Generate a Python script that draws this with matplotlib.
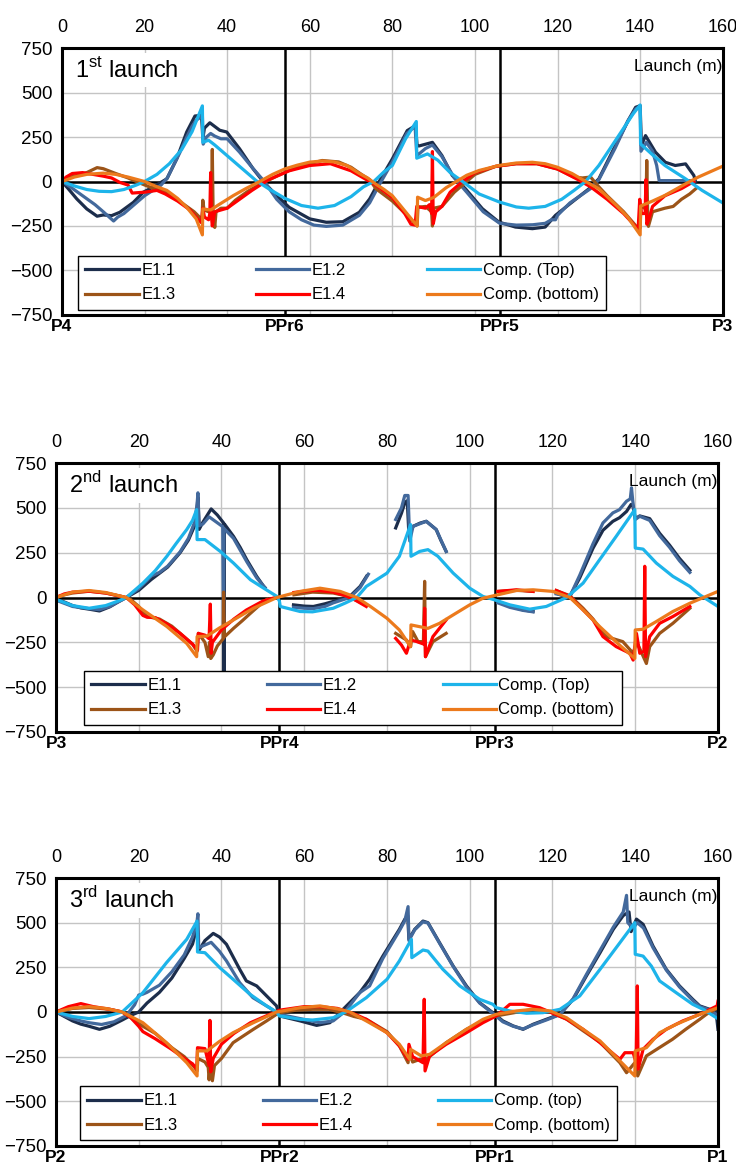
import numpy as np
import matplotlib.pyplot as plt

nan = np.nan

# ---------------- 1st launch (P4 - P3) ----------------
p1_e11 = [(0, 0), (1.5, -40), (3.6, -98), (6, -154), (8.5, -195), (10, -188), (12, -192), (14, -173),
          (17.3, -117), (19.7, -60), (22, -32), (25.4, 15), (27.8, 128), (30.2, 278), (32.2, 368),
          (33.8, 372), (34.1, 240), (34.5, 300), (35.8, 330), (38.2, 288), (39.9, 278), (43, 184),
          (46.3, 71), (48.7, 0), (52, -79), (55, -145), (60, -210), (64, -229), (68, -226), (72, -173),
          (74.5, -98), (76.8, 0), (80, 127), (83.6, 286), (85.6, 314), (86, 200), (86.5, 200),
          (89.7, 220), (92, 146), (94.5, 34), (97.7, -41), (101.8, -153), (105.8, -228), (109.8, -256),
          (113.9, -265), (117, -256), (119.5, -190), (123.5, -116), (127.6, -41), (130, 15), (134, 202),
          (137.3, 351), (138.9, 417), (140, 426), (140.3, 202), (141.3, 258), (143.7, 165),
          (146.1, 108), (148.5, 90), (151, 99), (153, 34), (153.4, 0)]
p1_e12 = [(0, 0), (2, -30), (5, -80), (8, -130), (10, -170), (12.5, -222), (13.5, -200), (15, -180),
          (17, -140), (18.5, -110), (20, -80), (22, -50), (24, -20), (25.5, 20), (27, 90), (28.5, 160),
          (30, 240), (31.5, 310), (32.5, 345), (33.5, 360), (34, 370), (34.2, 210), (35, 250),
          (36, 270), (37, 255), (38.5, 240), (40, 240), (43, 165), (46, 80), (49, 0), (52, -100),
          (55, -170), (58, -215), (61, -245), (64, -252), (68, -245), (72, -190), (74.5, -120),
          (76.8, -20), (80, 110), (83.5, 270), (85.5, 310), (85.9, 150), (86.2, 150), (88, 185),
          (89.7, 205), (92, 140), (95, 20), (98, -60), (102, -170), (106, -235), (110, -245),
          (114, -243), (117, -235), (118.5, -215), (119.5, -215), (120, -190), (123, -120),
          (128, -40), (130, 10), (134, 190), (137, 340), (139, 410), (140, 420), (140.2, 170),
          (141.5, 220), (143, 170), (144, 90), (144.6, 5), (152, 5), (153, 0)]
p1_e13 = [(0, 0), (1, 20), (3, 30), (6, 50), (8.5, 78), (10, 72), (13, 45), (16, 20), (19, -10),
          (22, -38), (25, -58), (27, -85), (29, -120), (32, -170), (33.5, -205), (33.9, -210),
          (34.1, -105), (34.4, -160), (35.5, -170), (36.2, -175), (36.4, 180), (36.6, -180),
          (37, -258), (37.3, -170), (38.5, -150), (40, -150), (42, -105), (45, -55), (48, -15),
          (52, 30), (55, 62), (60, 100), (63, 118), (67, 110), (70, 80), (72.5, 40), (74.5, 10),
          (76, -40), (80, -110), (84, -200), (86, -250), (86.2, -145), (88, -140), (89.5, -170),
          (89.7, -250), (90, -150), (92, -140), (95, -60), (98, 0), (100, 40), (105, 85), (110, 100),
          (115, 100), (120, 70), (124, 25), (126, 20), (128, 25), (130, -30), (132, -80), (136, -170),
          (139, -250), (140, -260), (140.2, -130), (141, -150), (141.4, -140), (141.6, 118),
          (141.8, -150), (142, -252), (143, -170), (146, -150), (148, -140), (150, -100), (152, -70),
          (153.5, -40)]
p1_e14 = [(0, 0), (1, 25), (2.5, 45), (5, 50), (7, 42), (10, 30), (12, 20), (14, -5), (16, -20),
          (17, -65), (20, -60), (23, -50), (25, -70), (28, -110), (31, -160), (33, -215), (33.8, -232),
          (34.1, -150), (34.5, -200), (35.5, -215), (35.8, -180), (36, 50), (36.2, -200), (36.4, -250),
          (37, -170), (40, -150), (43, -100), (46, -50), (50, 10), (55, 60), (60, 90), (65, 100),
          (70, 60), (73, 20), (74.5, 0), (76, -20), (80, -90), (83, -180), (84.5, -240), (85.5, -245),
          (85.9, -140), (88, -150), (89, -130), (89.5, -180), (89.7, 168), (89.9, -237), (90.5, -170),
          (92, -140), (94, -60), (97, 0), (100, 50), (105, 85), (110, 100), (115, 100), (120, 70),
          (125, 10), (128, -30), (132, -100), (136, -180), (138, -230), (139.5, -270), (139.9, -100),
          (140.3, -180), (141.2, -180), (141.4, 10), (141.6, -240), (142, -220), (143, -140),
          (146, -80), (150, -40), (153, 0)]
p1_ctop = [(0, 0), (3, -25), (6, -45), (9, -55), (12, -57), (15, -45), (18, -20), (20, 0), (23, 40),
           (26, 100), (29, 180), (31.5, 280), (34, 425), (34.1, 220), (35.5, 232), (37, 205),
           (40, 145), (44, 65), (47, 5), (50, -40), (54, -95), (58, -135), (62, -150), (66, -135),
           (70, -85), (73, -30), (75.5, 0), (78, 55), (80, 90), (83.2, 240), (85.8, 337), (85.9, 131),
           (88.5, 155), (91, 120), (94, 50), (97, 0), (101, -70), (106, -116), (110, -143),
           (113, -150), (117, -140), (121, -100), (124, -50), (126.8, 0), (130, 90), (134.3, 240),
           (138.3, 380), (140, 430), (140.1, 211), (143, 150), (146, 90), (151, 15), (155, -50),
           (160, -120)]
p1_cbot = [(0, 0), (3, 25), (6, 40), (10, 47), (13, 40), (16, 25), (20, 0), (22.5, -25), (25.4, -50),
           (28, -95), (30.2, -145), (32.5, -210), (34, -300), (34.1, -154), (36, -160), (38, -130),
           (41.5, -79), (44.5, -40), (47.9, 0), (51, 40), (54, 71), (57, 92), (60, 109), (63, 115),
           (66, 110), (69, 90), (72, 45), (74, 20), (76, -15), (78, -45), (80, -80), (83, -165),
           (86, -250), (86.1, -88), (88, -107), (90, -90), (93, -35), (95.5, 0), (98, 35), (101, 62),
           (105.8, 90), (110, 104), (113.9, 108), (117, 100), (120, 80), (123.5, 45), (126.8, 0),
           (130, -41), (134.3, -135), (137, -200), (140, -300), (140.1, -138), (143, -110),
           (146, -78), (151, -13), (154, 24), (157, 55), (160, 86)]

# ---------------- 2nd launch (P3 - P2) ----------------
p2_e11 = [(0, -10), (2, -25), (4, -45), (6, -58), (8, -65), (10.5, -75), (13, -52), (15, -25), (17, 0),
          (20, 40), (23, 100), (25, 135), (27, 170), (30, 250), (32, 320), (33.5, 400), (34.1, 500),
          (34.3, 560), (34.6, 380), (35.5, 420), (37.5, 494), (39, 460), (40.5, 416), (40.6, -600),
          (40.7, 410), (42.9, 341), (44.5, 280), (46.1, 211), (48.5, 118), (50.2, 62), (50.5, 55),
          (50.6, nan), (57.4, -41), (60, -48), (62.2, -50), (65, -35), (67, -22), (71, 6), (73.5, 62),
          (75.1, 120), (75.2, nan), (82.1, 388), (83.5, 470), (84.3, 528), (84.9, 540), (85.3, 351),
          (86.3, 397), (88, 415), (89.5, 425), (91.9, 379), (93, 320), (94.3, 257), (94.4, nan),
          (106.8, -22), (109.7, -50), (112.9, -69), (115.3, -78), (115.4, nan), (120.9, 24),
          (122.5, 10), (124.2, 6), (126.6, 110), (129.8, 275), (132.2, 375), (134.6, 425),
          (136.2, 445), (137.9, 480), (139, 519), (139.5, 505), (140, 440), (141.1, 455),
          (143.5, 440), (145.9, 358), (148.3, 292), (150.7, 218), (153.2, 152)]
p2_e12 = [(0, -15), (4, -50), (8, -62), (10.5, -68), (13, -50), (17, 0), (20, 50), (22, 95), (23, 120),
          (25, 140), (27, 175), (30, 255), (32, 330), (33.5, 420), (34.1, 520), (34.3, 584),
          (34.6, 400), (35.5, 410), (37, 450), (38.5, 425), (40.3, 395), (40.5, -200), (40.6, 385),
          (42.9, 330), (46.1, 200), (48.5, 110), (50.5, 55), (50.6, nan), (57.4, -55), (60, -60),
          (62.2, -62), (65, -50), (67, -30), (71, 0), (73.5, 55), (75.5, 130), (75.6, nan),
          (82.1, 435), (83.5, 500), (84.3, 569), (85.1, 569), (85.5, 315), (86.3, 397), (89.5, 425),
          (91.9, 379), (94.3, 257), (94.4, nan), (106.8, -30), (109.7, -55), (112.9, -72),
          (115.3, -80), (115.4, nan), (120.9, 20), (124.2, 6), (126.6, 125), (129.8, 300),
          (132.2, 416), (134.6, 472), (136.2, 490), (137.9, 537), (138.8, 550), (139.1, 612),
          (139.4, 540), (140, 435), (141.1, 453), (143.5, 430), (145.9, 345), (148.3, 280),
          (150.7, 205), (153.2, 140)]
p2_e13 = [(0, 0), (2, 15), (4, 25), (8, 35), (12, 25), (16, 5), (18, -10), (20, -50), (21, -80),
          (22, -106), (25, -120), (28, -160), (31, -220), (33, -260), (34.1, -300), (34.4, -200),
          (36, -250), (36.8, -330), (37.1, -250), (37.4, -340), (38, -320), (39, -270), (40.4, -230),
          (40.5, 30), (40.7, -220), (42.9, -172), (45, -130), (47, -88), (50.2, -22), (51, -10),
          (51.1, nan), (57.5, 15), (62, 30), (67, 25), (70, 10), (73, -20), (75, -45), (75.1, nan),
          (82.1, -200), (84.7, -237), (85.7, -274), (86.2, -190), (87.5, -246), (88.8, -246),
          (89.1, 90), (89.3, -330), (91.1, -246), (94.3, -200), (94.4, nan), (106.8, 34),
          (111.3, 40), (115.3, 34), (115.4, nan), (120.9, 39), (124.2, 10), (127.4, -60),
          (129.8, -120), (133, -218), (137, -246), (139.5, -311), (140.3, -250), (141, -280),
          (142.7, -368), (143.5, -274), (145.9, -200), (149.1, -144), (153.2, -60)]
p2_e14 = [(0, 0), (2, 20), (4, 30), (8, 35), (12, 25), (17, 0), (19, -40), (21, -100), (22, -110),
          (24, -112), (27, -150), (30, -200), (33, -260), (34.2, -293), (34.4, -200), (36, -210),
          (37, -230), (37.3, -37), (37.5, -311), (37.8, -250), (40, -180), (43, -120), (46, -70),
          (50, -20), (53, 0), (53.1, nan), (57.5, 28), (60, 35), (63, 40), (67, 30), (70, 10),
          (72, -10), (75, -50), (75.1, nan), (82.1, -228), (83.5, -265), (84.7, -311), (85.7, -237),
          (87.1, -245), (88.9, -260), (89.1, -60), (89.3, -330), (91.1, -218), (94.3, -125),
          (94.4, nan), (106.8, 34), (111.3, 43), (115.3, 34), (115.4, nan), (120.9, 39), (124.2, 6),
          (127.4, -69), (129.8, -125), (132.2, -218), (135.4, -274), (138.7, -311), (139.5, -349),
          (140.3, -200), (141.1, -311), (142.1, -300), (142.3, 174), (142.5, -330), (143.5, -218),
          (145.9, -144), (149.1, -106), (153.2, -50)]
p2_ctop = [(0, -10), (4, -45), (8, -60), (12, -45), (15, -20), (17, 0), (21, 80), (24, 150),
           (26.8, 230), (29, 300), (31.6, 379), (33, 430), (34, 490), (34.1, 323), (36, 323),
           (39.7, 257), (42.9, 192), (47, 99), (50.2, 52), (53.4, 6), (54, -20), (54.2, -50),
           (59, -78), (62, -80), (67, -60), (70, -30), (72.7, 0), (75, 62), (80, 136), (83, 230),
           (85.7, 407), (85.8, 230), (87.9, 257), (89.9, 267), (92.3, 230), (96, 136), (100, 52),
           (103.2, 6), (106, -13), (109.7, -41), (114.5, -65), (118.5, -50), (123.4, 0),
           (127.4, 80), (131.4, 211), (135.4, 341), (139.9, 490), (140, 276), (141.9, 270),
           (145.1, 192), (149.1, 118), (153.2, 62), (155.6, 15), (160, -50)]
p2_cbot = [(0, 0), (4, 30), (8, 39), (12, 28), (17, 0), (21, -69), (26.8, -162), (31.6, -256),
           (34, -330), (34.1, -218), (36.5, -215), (39.5, -170), (42.9, -125), (47.7, -60),
           (53.4, 0), (59, 34), (63.8, 52), (68.7, 34), (72.7, 0), (76, -50), (80, -116), (83, -181),
           (85.7, -274), (85.8, -153), (89.9, -172), (92.7, -144), (96, -97), (100, -41),
           (103.2, -4), (106, 11), (111.3, 39), (115.3, 43), (120.1, 34), (124.2, 0), (127.4, -69),
           (131.4, -162), (136.2, -265), (139.9, -340), (140, -181), (141.9, -177), (145.1, -134),
           (149.1, -78), (153.2, -32), (160, 34)]

# ---------------- 3rd launch (P2 - P1) ----------------
p3_e11 = [(0, 0), (2, -25), (4, -50), (6, -68), (8, -80), (10.5, -97), (13, -80), (16, -45), (18, -20),
          (20, 0), (22, 50), (25, 110), (28, 190), (31, 300), (33, 380), (34.1, 480), (34.4, 340),
          (36, 400), (38, 440), (39.5, 420), (41.2, 379), (44.4, 239), (46, 174), (48.5, 146),
          (50.9, 90), (53.3, 34), (54, -22), (59, -50), (63, -75), (66.2, -60), (69.4, 15),
          (73.4, 108), (75.8, 183), (79, 313), (83, 463), (84.3, 519), (85, 540), (85.3, 407),
          (86.7, 463), (88.7, 509), (89.9, 500), (92.7, 388), (96, 257), (99.2, 146), (102.4, 52),
          (105.6, -4), (108, -50), (110.5, -78), (112.9, -97), (115.3, -69), (118.5, -41),
          (121.8, -13), (125, 71), (128.2, 202), (131.5, 332), (134.7, 463), (137.1, 540),
          (138.5, 560), (139, 450), (140.3, 520), (141.9, 491), (144.3, 369), (147.5, 239),
          (150.7, 146), (153.9, 71), (155.6, 34), (158, 15), (159.5, 10), (160, -97)]
p3_e12 = [(0, 0), (3, -30), (6, -50), (8, -60), (11, -70), (14, -55), (17, -20), (19, 40), (20, 95),
          (21, 100), (22, 110), (25, 150), (28, 225), (31, 320), (33, 420), (34.1, 510), (34.3, 550),
          (34.5, 360), (36, 375), (37.5, 390), (39.5, 340), (41.2, 286), (44.4, 164), (47.6, 80),
          (51.6, 24), (54, -13), (59, -37), (63.8, -60), (67, -50), (70, 6), (73.4, 108), (75.8, 146),
          (79, 300), (83, 455), (84.3, 510), (85.1, 590), (85.3, 400), (86.7, 460), (88.7, 505),
          (89.9, 498), (92.7, 385), (96, 255), (99.2, 140), (102.4, 50), (105.6, -8), (108, -55),
          (110.5, -80), (112.9, -95), (115.3, -72), (118.5, -45), (121.8, -15), (125, 75),
          (128.2, 210), (131.5, 345), (134.7, 475), (137.1, 560), (137.9, 653), (138.2, 500),
          (139.5, 470), (140.5, 500), (142, 470), (144.3, 360), (147.5, 235), (150.7, 140),
          (153.9, 65), (155.6, 30), (158, 12), (160, -20)]
p3_e13 = [(0, 0), (4, 20), (8, 25), (13, 15), (16, 0), (18, -30), (21, -80), (24, -120), (28, -200),
          (31, -250), (33.5, -310), (34.1, -330), (34.3, -260), (36, -280), (36.8, -310), (37, -380),
          (37.3, -300), (37.8, -385), (38.3, -300), (40, -260), (42.8, -172), (47.7, -97),
          (50.9, -50), (53.3, -13), (55, 0), (58, 10), (62, 15), (66, 15), (70, -10), (72, -25),
          (75, -41), (80, -110), (83, -190), (85.1, -284), (85.3, -220), (86.2, -280), (88, -265),
          (89.5, -265), (94.3, -172), (99.2, -97), (103.2, -50), (106.4, -22), (110.5, -5),
          (115.3, 15), (119.4, 0), (123.4, -40), (127.4, -105), (131.5, -170), (136.3, -284),
          (137.9, -340), (139.9, -284), (140.6, -358), (142.7, -246), (145.2, -209), (149, -153),
          (152.2, -97), (155.6, -41), (157.2, -13), (160, 24)]
p3_e14 = [(0, 0), (3, 30), (6, 47), (9, 30), (13, 15), (16, 0), (18, -30), (20, -80), (21, -110),
          (24, -150), (28, -210), (31, -260), (33, -290), (34, -320), (34.2, -200), (36, -205),
          (37, -300), (37.2, -47), (37.4, -335), (38, -260), (40, -180), (43, -120), (47, -60),
          (51, -20), (54, 10), (57, 20), (60, 30), (64, 30), (68, 20), (72, -10), (75, -41),
          (80, -116), (83, -190), (85.1, -265), (85.3, -181), (86.2, -250), (88.7, -284), (89, 71),
          (89.2, -330), (90.3, -246), (94.3, -181), (99.2, -116), (103.2, -60), (106.4, -22),
          (109.7, 43), (112.9, 43), (116.9, 24), (119.4, 0), (123.4, -40), (127.4, -97),
          (131.5, -172), (136.3, -265), (137.5, -228), (139.5, -228), (140.2, -284), (140.5, 146),
          (140.7, -320), (141.9, -209), (144.3, -153), (147.5, -97), (151.5, -50), (155.6, -13),
          (159.8, 34), (160, 60)]
p3_ctop = [(0, 0), (4, -25), (8, -37), (12, -25), (16, 0), (21, 108), (26.7, 276), (31.6, 407),
           (34.1, 509), (34.2, 336), (36, 332), (39.6, 248), (42.8, 183), (46.9, 99), (50.9, 34),
           (53.3, 0), (54, -22), (59, -41), (62, -45), (67, -32), (70, 0), (75, 80), (80, 183),
           (83, 286), (85.9, 407), (86, 304), (88.7, 347), (89.9, 341), (93.5, 239), (97.6, 146),
           (102.4, 71), (105.6, 43), (106.4, 24), (109.7, 6), (113.7, -7), (117.7, -4), (121.8, 15),
           (126.6, 90), (131.5, 239), (136.3, 388), (139.9, 500), (140, 323), (141.9, 313),
           (143.9, 257), (145.9, 174), (149.9, 108), (153.9, 43), (156.4, 15), (159.6, -32)]
p3_cbot = [(0, 0), (4, 22), (8, 30), (12, 20), (16, 0), (21, -60), (26.7, -172), (31.6, -284),
           (34.1, -358), (34.2, -218), (36.5, -218), (39.5, -165), (42.8, -116), (47.7, -60),
           (53.3, 0), (59, 24), (63.8, 34), (68.6, 15), (71, 0), (75, -50), (80, -116), (83, -181),
           (85.5, -265), (85.7, -209), (88.3, -246), (90.3, -237), (94.3, -172), (99.2, -97),
           (103.2, -41), (106.4, -13), (111.3, 6), (115.3, 15), (119.4, 6), (123.4, -32),
           (127.4, -97), (131.5, -162), (136.3, -274), (139.9, -358), (140, -218), (142.7, -200),
           (145.9, -116), (149.9, -69), (155.6, -13), (160, 24)]

supports = [0, 54, 106, 160]
support_names = [['P4', 'PPr6', 'PPr5', 'P3'],
                 ['P3', 'PPr4', 'PPr3', 'P2'],
                 ['P2', 'PPr2', 'PPr1', 'P1']]
titles = ['1$^{\\rm st}$ launch', '2$^{\\rm nd}$ launch', '3$^{\\rm rd}$ launch']
top_names = ['Comp. (Top)', 'Comp. (Top)', 'Comp. (top)']
panels = [[p1_e11, p1_e12, p1_e13, p1_e14, p1_ctop, p1_cbot],
          [p2_e11, p2_e12, p2_e13, p2_e14, p2_ctop, p2_cbot],
          [p3_e11, p3_e12, p3_e13, p3_e14, p3_ctop, p3_cbot]]

colors = ['#1c2d4b', '#43699c', '#9c5418', '#ff0000', '#1db4ea', '#ec7a1c']

plt.rcParams['font.family'] = 'Liberation Sans'
plt.rcParams['mathtext.fontset'] = 'custom'
plt.rcParams['mathtext.rm'] = 'Liberation Sans'

fig = plt.figure(figsize=(7.36, 11.74), dpi=100)
rects = [[0.0842, 0.7317, 0.8978, 0.2274],
         [0.0761, 0.3765, 0.8994, 0.2291],
         [0.0761, 0.0239, 0.8994, 0.2282]]
leg_boxes = [(0.024, 0.019, 0.80), (0.042, 0.026, 0.813), (0.036, 0.022, 0.812)]

for i in range(3):
    ax = fig.add_axes(rects[i])
    ax.set_xlim(0, 160)
    ax.set_ylim(-750, 750)
    ax.set_xticks(np.arange(0, 161, 20))
    ax.set_yticks(np.arange(-750, 751, 250))
    ax.xaxis.tick_top()
    ax.tick_params(axis='x', length=0, labelsize=13, pad=9)
    ax.tick_params(axis='y', length=0, labelsize=13.5, pad=7)
    ax.set_axisbelow(True)
    ax.grid(color='#c4c4c4', lw=1.0)
    for s in ax.spines.values():
        s.set_linewidth(2.2)
    ax.axhline(0, color='black', lw=1.8, zorder=1.5)
    for xs in supports[1:3]:
        ax.axvline(xs, color='black', lw=1.8, zorder=1.5)

    lines = []
    for pts, c in zip(panels[i], colors):
        xs = [p[0] for p in pts]
        ys = [p[1] for p in pts]
        ln, = ax.plot(xs, ys, color=c, lw=2.3, solid_joinstyle='round')
        lines.append(ln)

    labels = ['E1.1', 'E1.2', 'E1.3', 'E1.4', top_names[i], 'Comp. (bottom)']
    order = [0, 2, 1, 3, 4, 5]
    x0, y0, w = leg_boxes[i]
    leg = ax.legend([lines[k] for k in order], [labels[k] for k in order], ncol=3,
                    mode='expand', loc='lower left', bbox_to_anchor=(x0, y0, w, 0.2),
                    fontsize=12, fancybox=False, framealpha=1, edgecolor='black',
                    handlelength=3.2, handletextpad=0.15, labelspacing=0.55,
                    borderpad=0.45, borderaxespad=0)
    leg.get_frame().set_linewidth(1.0)

    ax.text(0.02, 0.965, titles[i], transform=ax.transAxes, ha='left', va='top',
            fontsize=17, bbox=dict(facecolor='white', edgecolor='none', pad=3), zorder=2.5)
    ax.text(0.999, 0.93, 'Launch (m)', transform=ax.transAxes, ha='right', va='center',
            fontsize=12.5)

    for xs, name in zip(supports, support_names[i]):
        ax.text(xs, -0.015, name, transform=ax.get_xaxis_transform(), ha='center', va='top',
                fontsize=12.5, fontweight='bold')

fig.savefig('out.png', dpi=100)
